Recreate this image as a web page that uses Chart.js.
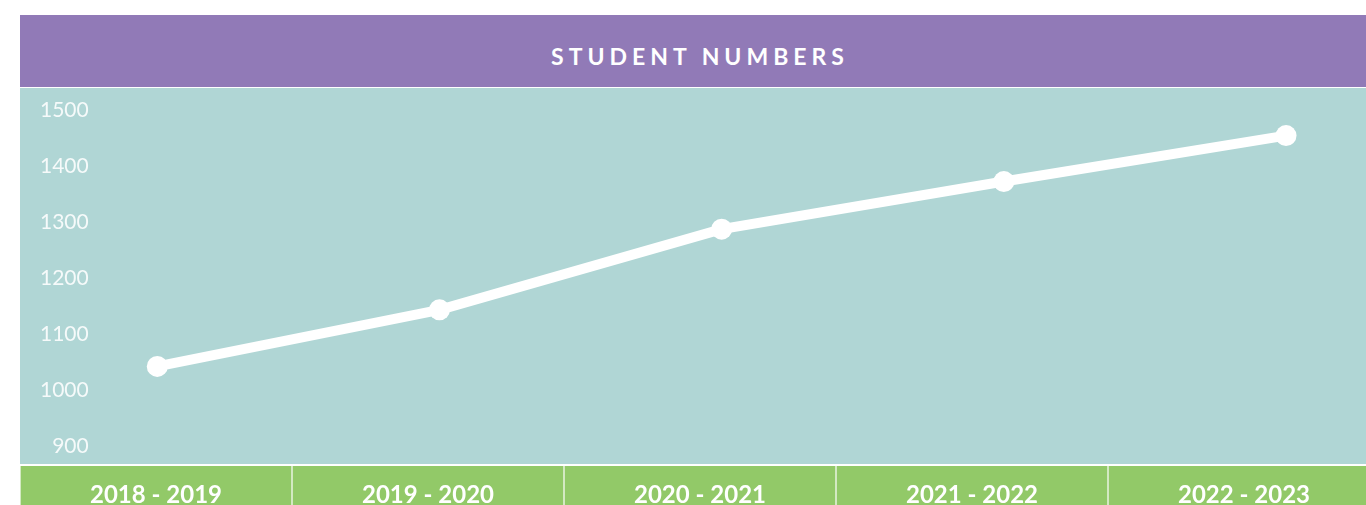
<!DOCTYPE html>
<html>
<head>
<meta charset="utf-8">
<script src="https://cdn.jsdelivr.net/npm/chart.js@4.4.1/dist/chart.umd.min.js"></script>
<style>
  html, body { margin: 0; padding: 0; background: #fff; overflow: hidden; width: 1366px; height: 505px; }
  #wrap { position: absolute; left: 20px; top: 15px; width: 1360px; }
  #title {
    height: 72px; box-sizing: border-box; padding-top: 29px;
    background: #917ab7; color: #fff; text-align: center;
    font: bold 23px Lato, sans-serif; line-height: 24px; letter-spacing: 5px;
  }
  #graph { display: block; margin-top: 1px; }
</style>
</head>
<body>
<div id="wrap">
  <div id="title">STUDENT NUMBERS</div>
  <canvas id="graph" width="1360" height="434"></canvas>
</div>
<script>
const categories = ['2018 - 2019', '2019 - 2020', '2020 - 2021', '2021 - 2022', '2022 - 2023']
const students = [1042, 1143, 1287, 1372, 1454]
const yTicks = [900, 1000, 1100, 1200, 1300, 1400, 1500]

const FONT = 'Lato, sans-serif'

// teal plot area, green band under it for the year labels
const bands = {
  id: 'bands',
  beforeDraw(chart) {
    const { ctx, chartArea, width, height } = chart
    ctx.save()
    ctx.fillStyle = '#b0d6d5'
    ctx.fillRect(0, 0, width, chartArea.bottom)
    ctx.fillStyle = '#92c968'
    ctx.fillRect(0, chartArea.bottom, width, height - chartArea.bottom)
    ctx.restore()
  },
}

const ctx = document.getElementById('graph').getContext('2d')

new Chart(ctx, {
  type: 'line',
  data: {
    labels: categories,
    datasets: [
      {
        label: 'Student numbers',
        xAxisID: 'xp',
        data: students.map((v, i) => ({ x: i, y: v })),
        borderColor: '#fff',
        borderWidth: 10,
        pointRadius: 10.5,
        pointBackgroundColor: '#fff',
        pointBorderWidth: 0,
        tension: 0,
      },
    ],
  },
  options: {
    responsive: false,
    animation: false,
    layout: { padding: 0, autoPadding: false },
    plugins: {
      legend: { display: false },
      tooltip: { enabled: false },
    },
    scales: {
      x: {
        type: 'category',
        position: 'bottom',
        offset: true,
        grid: {
          offset: true,
          drawOnChartArea: false,
          drawTicks: true,
          tickLength: 57,
          color: 'rgba(255,255,255,0.6)',
          lineWidth: 2,
        },
        border: { display: true, color: '#fff', width: 2 },
        ticks: {
          color: '#fff',
          font: { family: FONT, weight: 'bold', size: 24 },
          padding: -41,
          maxRotation: 0,
          autoSkip: false,
        },
        afterFit: (s) => { s.height = 57 },
      },
      xp: {
        type: 'linear',
        display: false,
        min: -0.4865,
        max: 4.333,
      },
      y: {
        min: 866,
        max: 1539,
        afterBuildTicks: (s) => { s.ticks = yTicks.map((v) => ({ value: v })) },
        afterFit: (s) => {
          // labels sit inside the plot; keep the axis from reserving room
          s.width = 0
          s.paddingTop = 0
          s.paddingBottom = 0
        },
        grid: { display: false, drawTicks: false },
        border: { display: false },
        ticks: {
          mirror: true,
          crossAlign: 'far',
          padding: 20,
          color: 'rgba(255,255,255,0.88)',
          font: { family: FONT, size: 21 },
          callback: (v) => String(v),
        },
      },
    },
  },
  plugins: [bands],
})
</script>
</body>
</html>
